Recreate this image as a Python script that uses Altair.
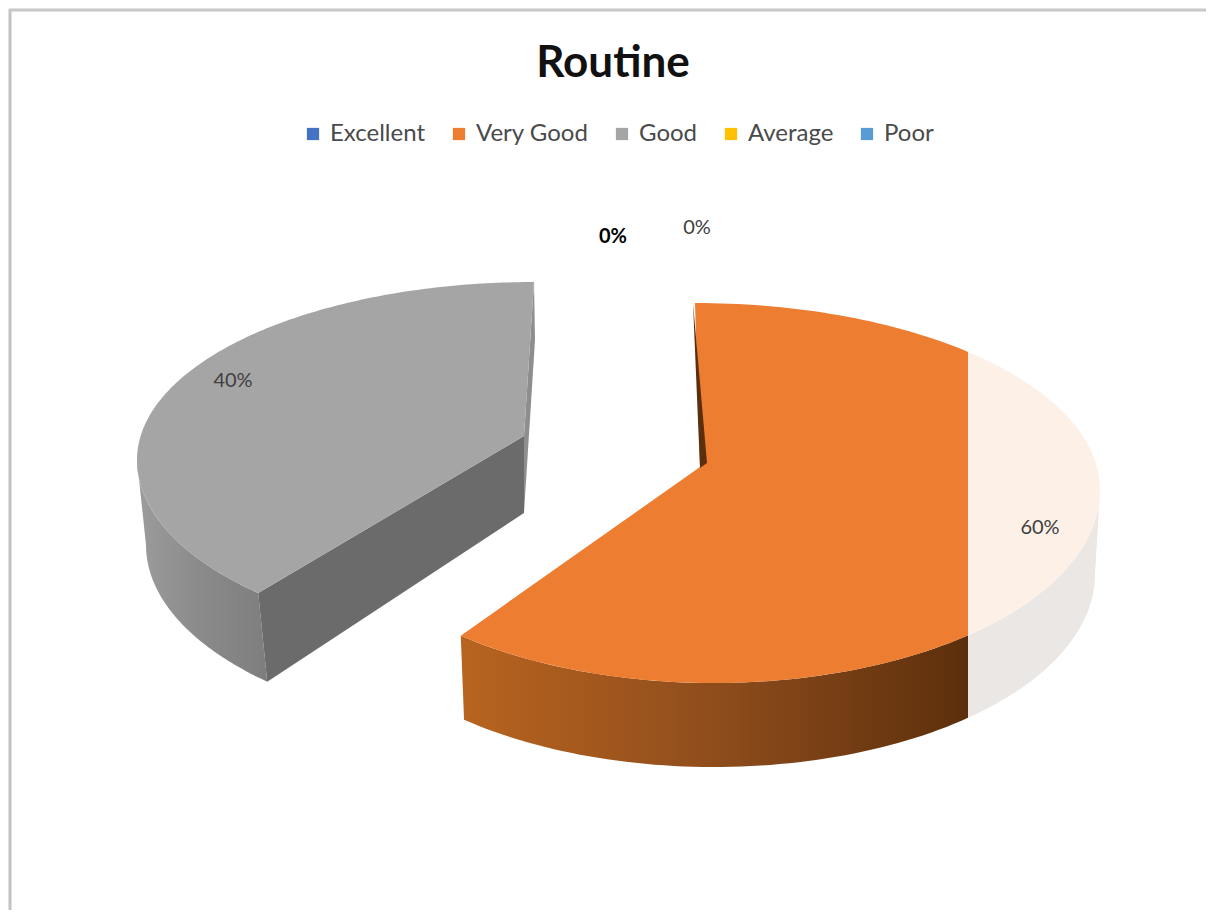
import math
import altair as alt

# ---- chart values ----
CATEGORIES = ["Excellent", "Very Good", "Good", "Average", "Poor"]
SHARES = [0, 60, 40, 0, 0]
COLORS = ["#4472C4", "#ED7D31", "#A5A5A5", "#FFC000", "#5B9BD5"]

# ---- layout (page pixels) ----
FONT = "Lato"
FADE_X = 968
START_DEG = 90
ORANGE = dict(shift=-5, apex=(700, 467), cy=490, top=(695, 405, 187), bot=(714, 386, 193),
              side=(714, 381, 574, 193))
GREY = dict(shift=-8, apex=(524, 436), cy=460, top=(534, 397, 178), bot=(534, 397, 185),
            side=(543, 397, 545, 190))
LABEL_AT = {"0a": (613, 237), "0b": (697, 228), "Good": (233, 381), "Very Good": (1040, 528)}


def rim(g, deg):
    t = math.radians(deg)
    s, c = math.sin(t), math.cos(t)
    cx, a, b = g["top"] if s >= 0 else g["bot"]
    return (cx + a * c, g["cy"] - b * s)


def side_rim(g, deg):
    t = math.radians(deg)
    cx, a, cy, b = g["side"]
    return (cx + a * math.cos(t), cy - b * math.sin(t))


def sweep(a, b, n=90):
    return [a + (b - a) * i / n for i in range(n + 1)]


def clip(poly, limit, keep_left=True):
    inside = (lambda p: p[0] <= limit) if keep_left else (lambda p: p[0] >= limit)
    out = []
    for i, p in enumerate(poly):
        q = poly[(i + 1) % len(poly)]
        if inside(p):
            out.append(p)
        if inside(p) != inside(q):
            k = (limit - p[0]) / (q[0] - p[0])
            out.append((limit, p[1] + k * (q[1] - p[1])))
    return out


def feature(poly, category=""):
    ring = [list(p) for p in poly] + [list(poly[0])]
    return {"type": "Feature", "properties": {"category": category},
            "geometry": {"type": "Polygon", "coordinates": [ring]}}


PROJ = dict(type="identity", scale=1, translate=[-8, -8])


def shape(polys, **mark):
    data = alt.InlineData(values={"type": "FeatureCollection", "features": [feature(p) for p in polys]},
                          format=alt.DataFormat(property="features", type="json"))
    return alt.Chart(data).mark_geoshape(strokeWidth=0, **mark).project(**PROJ)


def gradient(*stops):
    n = len(stops) - 1
    return {"gradient": "linear", "x1": 0, "x2": 1, "y1": 0, "y2": 0,
            "stops": [{"offset": i / n, "color": c} for i, c in enumerate(stops)]}


# angles follow the shares, clockwise from the top
very_good_end = START_DEG - 360 * SHARES[1] / 100
good_end = very_good_end - 360 * SHARES[2] / 100

o_end = very_good_end + ORANGE["shift"]
o_top = [rim(ORANGE, d) for d in sweep(START_DEG, o_end, 180)] + [ORANGE["apex"]]
o_side = [rim(ORANGE, d) for d in sweep(0, o_end)] + [side_rim(ORANGE, d) for d in sweep(o_end, 0)]

g_start = very_good_end + GREY["shift"] + 360
g_top = [rim(GREY, d) for d in sweep(g_start, START_DEG, 180)] + [GREY["apex"]]
g_side = [rim(GREY, d) for d in sweep(180, g_start)] + [side_rim(GREY, d) for d in sweep(g_start, 180)]
g_front = [rim(GREY, g_start), GREY["apex"], (GREY["apex"][0], 513), side_rim(GREY, g_start)]
g_inner = [rim(GREY, START_DEG), (535, 340), (GREY["apex"][0], 513), GREY["apex"]]
sliver = [(693, 303), (707, 463), (700, 468)]

# coloured top faces: these carry the legend
top_values = {"type": "FeatureCollection", "features": [
    feature(clip(o_top, FADE_X), CATEGORIES[1]), feature(g_top, CATEGORIES[2])]}
tops = alt.Chart(alt.InlineData(values=top_values, format=alt.DataFormat(property="features", type="json"))
                 ).mark_geoshape(strokeWidth=0).encode(
    color=alt.Color("properties.category:N",
                    scale=alt.Scale(domain=CATEGORIES, range=COLORS),
                    legend=alt.Legend(title=None, orient="none", legendX=293, legendY=114,
                                      direction="horizontal", columns=5, gridAlign="none",
                                      symbolType="square", symbolSize=150, symbolStrokeWidth=0,
                                      labelFont=FONT, labelFontSize=24, labelColor="#4A4A4A",
                                      labelOffset=5, columnPadding=21, symbolOpacity=1))
).project(**PROJ)

layers = [
    shape([g_side], fill=gradient("#9C9C9C", "#8A8A8A", "#7E7E7E")),
    shape([g_inner], fill="#8E8E8E"),
    shape([g_front], fill="#6B6B6B"),
    shape([clip(o_side, FADE_X, False)], fill="#EAE7E4"),
    shape([clip(o_top, FADE_X, False)], fill="#FDF0E7"),
    shape([clip(o_side, FADE_X)], fill=gradient("#B8641F", "#8F4D1C", "#5C2F0C")),
    tops,
    shape([sliver], fill="#5C2F0C"),
]

# data labels
label_rows = [
    {"t": f"{SHARES[0]}%", "k": "0a"},
    {"t": f"{SHARES[3]}%", "k": "0b"},
    {"t": f"{SHARES[2]}%", "k": "Good"},
    {"t": f"{SHARES[1]}%", "k": "Very Good"},
]
for row in label_rows:
    x, y = LABEL_AT[row["k"]]
    layers.append(
        alt.Chart(alt.Data(values=[row])).mark_text(
            font=FONT, fontSize=20, color="#000000" if row["k"] == "0a" else "#404040",
            fontWeight="bold" if row["k"] == "0a" else "normal"
        ).encode(text="t:N", x=alt.value(x - 8), y=alt.value(y - 8))
    )

# frame
layers.append(alt.Chart(alt.Data(values=[{}])).mark_rule(color="#C2C2C2", strokeWidth=3).encode(
    x=alt.value(2), y=alt.value(1), y2=alt.value(902)))
layers.append(alt.Chart(alt.Data(values=[{}])).mark_rule(color="#C8C8C8", strokeWidth=3).encode(
    x=alt.value(1), x2=alt.value(1198), y=alt.value(2)))

chart = alt.layer(*layers).properties(
    width=1198, height=902, padding=0,
    autosize=alt.AutoSizeParams(type="none"),
    title=alt.TitleParams("Routine", font=FONT, fontSize=44, fontWeight="bold", color="#111111",
                          anchor="middle", dx=6, dy=82),
).configure_view(stroke=None).resolve_scale(color="independent")

chart.save("out.html", embed_options={"renderer": "svg", "actions": False})
